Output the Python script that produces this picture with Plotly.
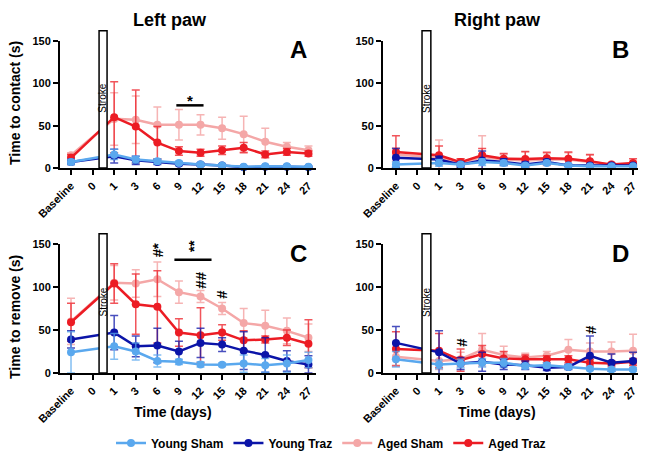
import plotly.graph_objects as go

# ---------------- data ----------------
categories = ["Baseline", "0", "1", "3", "6", "9", "12", "15", "18", "21", "24", "27"]
series_names = ["Young Sham", "Young Traz", "Aged Sham", "Aged Traz"]
N = None  # no measurement at day 0 (stroke)

# Panel A - Left paw, time to contact (s)
A_young_sham = [7, N, 16, 10, 8, 6, 4, 3, 1.5, 2, 2, 1.5]
A_young_sham_err = [3, N, 6, 4, 3, 2, 2, 1, 1, 1, 1, 1]
A_young_traz = [7, N, 14, 9, 7, 5, 4, 3, 1, 1.5, 1.5, 1]
A_young_traz_err = [3, N, 8, 5, 3, 2, 2, 1, 1, 1, 1, 1]
A_aged_sham = [15, N, 58, 57, 51, 51, 51, 47, 40, 31, 25, 21]
A_aged_sham_err = [3, N, 31, 28, 21, 18, 12, 13, 21, 16, 5, 5]
A_aged_traz = [12, N, 60, 49, 30, 20, 18, 21, 24, 16, 19, 17]
A_aged_traz_err = [4, N, 42, 43, 19, 5, 4, 5, 6, 4, 4, 3]

# Panel B - Right paw, time to contact (s)
B_young_sham = [4, N, 6, 4, 7, 6, 3, 6, 3, 2, 2, 2]
B_young_sham_err = [3, N, 4, 2, 4, 3, 2, 2, 1, 1, 1, 1]
B_young_traz = [12, N, 10, 4, 9, 7, 4, 7, 3, 3, 3, 3]
B_young_traz_err = [11, N, 4, 3, 11, 4, 3, 3, 1, 1, 2, 1]
B_aged_sham = [16, N, 12, 6, 13, 10, 9, 10, 10, 7, 4, 4]
B_aged_sham_err = [8, N, 21, 5, 25, 6, 10, 7, 8, 8, 2, 4]
B_aged_traz = [19, N, 15, 7, 15, 11, 10.5, 11.5, 11, 8, 4, 6]
B_aged_traz_err = [19, N, 11, 4, 8, 6, 9, 7, 8, 8, 2, 5]

# Panel C - Left paw, time to remove (s)
C_young_sham = [24, N, 31, 25, 14, 13, 10, 9.5, 11, 9, 11, 15]
C_young_sham_err = [24, N, 15, 10, 7, 3, 3, 2, 10, 8, 10, 9]
C_young_traz = [39, N, 47, 31, 32, 25, 35, 33, 26, 21, 14, 10]
C_young_traz_err = [10, N, 20, 12, 20, 12, 17, 8, 22, 20, 12, 10]
C_aged_sham = [60, N, 105, 104, 109, 94, 89, 75, 58, 55, 49, 41]
C_aged_sham_err = [27, N, 20, 16, 20, 13, 7, 7, 17, 18, 15, 16]
C_aged_traz = [59, N, 104, 80, 77, 47, 44, 47, 38, 39, 41, 34]
C_aged_traz_err = [22, N, 23, 35, 42, 16, 32, 9, 11, 4, 9, 28]

# Panel D - Right paw, time to remove (s)
D_young_sham = [16, N, 10, 11, 12, 12, 8, 9, 7, 5, 4, 4]
D_young_sham_err = [9, N, 5, 5, 5, 5, 3, 3, 2, 2, 2, 2]
D_young_traz = [35, N, 24, 11, 13, 10, 9, 6, 7, 20, 12, 14]
D_young_traz_err = [19, N, 25, 7, 11, 6, 5, 3, 3, 23, 10, 10]
D_aged_sham = [19, N, 14, 16, 27, 21, 18, 20, 27, 25, 25, 26]
D_aged_sham_err = [10, N, 10, 8, 19, 10, 5, 5, 12, 10, 11, 19]
D_aged_traz = [28, N, 26, 15, 22, 17, 16, 16, 16, 12, 11, 13]
D_aged_traz_err = [20, N, 20, 13, 10, 8, 5, 4, 4, 4, 3, 4]

y_ticks = [0, 50, 100, 150]

# ---------------- styles / layout helpers ----------------
colors = {"Young Sham": "#5AA8EE", "Young Traz": "#0B14A8",
          "Aged Sham": "#F4A7A7", "Aged Traz": "#EC1C24"}
err_colors = {"Young Sham": "rgba(90,168,238,0.75)", "Young Traz": "rgba(11,20,168,0.75)",
              "Aged Sham": "rgba(244,167,167,0.85)", "Aged Traz": "rgba(236,28,36,0.75)"}
rank = {"Young Sham": 1, "Young Traz": 2, "Aged Sham": 3, "Aged Traz": 4}
FONT = "Liberation Sans, Arial, sans-serif"

# page body has an 8px margin: the figure is drawn 8px in from the window edge
W, H, OFF = 644, 449, 8
def fx(px):
    return (px - OFF) / W
def fy(py):
    return 1 - (py - OFF) / H

panels = {
    "A": {"ax": "", "data": {"Young Sham": (A_young_sham, A_young_sham_err),
                             "Young Traz": (A_young_traz, A_young_traz_err),
                             "Aged Sham": (A_aged_sham, A_aged_sham_err),
                             "Aged Traz": (A_aged_traz, A_aged_traz_err)}},
    "B": {"ax": "2", "data": {"Young Sham": (B_young_sham, B_young_sham_err),
                              "Young Traz": (B_young_traz, B_young_traz_err),
                              "Aged Sham": (B_aged_sham, B_aged_sham_err),
                              "Aged Traz": (B_aged_traz, B_aged_traz_err)}},
    "C": {"ax": "3", "data": {"Young Sham": (C_young_sham, C_young_sham_err),
                              "Young Traz": (C_young_traz, C_young_traz_err),
                              "Aged Sham": (C_aged_sham, C_aged_sham_err),
                              "Aged Traz": (C_aged_traz, C_aged_traz_err)}},
    "D": {"ax": "4", "data": {"Young Sham": (D_young_sham, D_young_sham_err),
                              "Young Traz": (D_young_traz, D_young_traz_err),
                              "Aged Sham": (D_aged_sham, D_aged_sham_err),
                              "Aged Traz": (D_aged_traz, D_aged_traz_err)}},
}

xpos = list(range(len(categories)))
draw_order = ["Aged Sham", "Aged Traz", "Young Traz", "Young Sham"]

fig = go.Figure()
for pname, p in panels.items():
    for s in draw_order:
        vals, errs = p["data"][s]
        fig.add_trace(go.Scatter(
            x=xpos, y=vals, name=s, mode="lines+markers", connectgaps=True,
            line=dict(color=colors[s], width=2.5),
            marker=dict(color=colors[s], size=8),
            error_y=dict(type="data", array=errs, visible=True,
                         color=err_colors[s], thickness=1.5, width=4),
            xaxis="x" + p["ax"], yaxis="y" + p["ax"],
            showlegend=(pname == "A"), legendrank=rank[s], cliponaxis=False,
        ))

left_dom = [fx(60), fx(316)]
right_dom = [fx(383), fx(638)]
top_dom = [fy(168), fy(41)]
bot_dom = [fy(373), fy(244)]

def xax(dom, rng, anchor):
    return dict(domain=dom, range=rng, anchor=anchor, tickmode="array",
                tickvals=xpos, ticktext=categories, tickangle=-45, automargin=False,
                showline=True, linecolor="black", linewidth=2, ticks="outside",
                ticklen=5, tickwidth=2, tickcolor="black", showgrid=False, zeroline=False,
                tickfont=dict(family=FONT, size=11, color="black", weight="bold"))

def yax(dom, anchor):
    return dict(domain=dom, range=[0, 150], anchor=anchor, tickmode="array",
                tickvals=y_ticks, showline=True, linecolor="black", linewidth=2,
                ticks="outside", ticklen=5, tickwidth=2, tickcolor="black",
                showgrid=False, zeroline=False, automargin=False,
                tickfont=dict(family=FONT, size=11, color="black", weight="bold"))

left_range = [-0.51, 11.35]
right_range = [-0.6, 11.23]

fig.update_layout(
    width=W, height=H, margin=dict(l=0, r=0, t=0, b=0, autoexpand=False),
    paper_bgcolor="white", plot_bgcolor="white",
    xaxis=xax(left_dom, left_range, "y"),
    yaxis=yax(top_dom, "x"),
    xaxis2=xax(right_dom, right_range, "y2"),
    yaxis2=yax(top_dom, "x2"),
    xaxis3=xax(left_dom, left_range, "y3"),
    yaxis3=yax(bot_dom, "x3"),
    xaxis4=xax(right_dom, right_range, "y4"),
    yaxis4=yax(bot_dom, "x4"),
    legend=dict(orientation="h", x=fx(331), xanchor="center", y=fy(443), yanchor="middle",
                font=dict(family=FONT, size=12, color="black", weight="bold"),
                itemwidth=30, tracegroupgap=0, bgcolor="rgba(0,0,0,0)"),
    showlegend=True,
)

def ann(**kw):
    kw.setdefault("xanchor", "center")
    kw.setdefault("yanchor", "middle")
    kw.setdefault("showarrow", False)
    fig.add_annotation(**kw)

# Axis titles
title_font = dict(family=FONT, size=14, color="black", weight="bold")
for py, txt in [(103, "Time to contact (s)"), (317, "Time to remove (s)")]:
    ann(xref="paper", yref="paper", x=fx(15), y=fy(py), text=txt,
        textangle=-90, font=title_font)
for px in [173, 497]:
    ann(xref="paper", yref="paper", x=fx(px), y=fy(412), text="Time (days)",
        font=title_font)

# Stroke boxes
stroke_x = {"": (1.30, 1.67), "2": (1.21, 1.62), "3": (1.30, 1.67), "4": (1.21, 1.62)}
for ax, (x0, x1) in stroke_x.items():
    fig.add_shape(type="rect", xref="x" + ax, yref="y" + ax + " domain",
                  x0=x0, x1=x1, y0=0, y1=1.08, layer="above",
                  fillcolor="white", line=dict(color="black", width=1.5))
    ann(xref="x" + ax, yref="y" + ax, x=(x0 + x1) / 2, y=82,
        text="Stroke", textangle=-90,
        font=dict(family=FONT, size=10, color="black"))

# Panel letters
for ax, letter in [("", "A"), ("2", "B"), ("3", "C"), ("4", "D")]:
    ann(xref="x" + ax + " domain", yref="y" + ax + " domain",
        x=0.93, y=0.93, text=letter,
        font=dict(family=FONT, size=24, color="black", weight="bold"))

# Column titles
for px, txt in [(170, "Left paw"), (497, "Right paw")]:
    ann(xref="paper", yref="paper", x=fx(px), y=fy(20), text=txt,
        font=dict(family=FONT, size=18, color="black", weight="bold"))

# Significance markers
fig.add_shape(type="line", xref="x", yref="y", x0=4.88, x1=6.14, y0=74, y1=74,
              line=dict(color="black", width=2.5))
fig.add_shape(type="line", xref="x3", yref="y3", x0=4.79, x1=6.51, y0=131.7, y1=131.7,
              line=dict(color="black", width=2.5))
sig = [("", 5.5, 80, "*", 0), ("3", 5.67, 148, "**", -90), ("3", 4, 143, "#*", -90),
       ("3", 6, 108, "##", -90), ("3", 7, 91, "#", -90),
       ("4", 3, 36, "#", -90), ("4", 9, 51, "#", -90)]
for ax, x, y, t, ang in sig:
    ann(xref="x" + ax, yref="y" + ax, x=x, y=y, text=t, textangle=ang,
        font=dict(family=FONT, size=15, color="black", weight="bold"))

fig.write_html("out.html")
